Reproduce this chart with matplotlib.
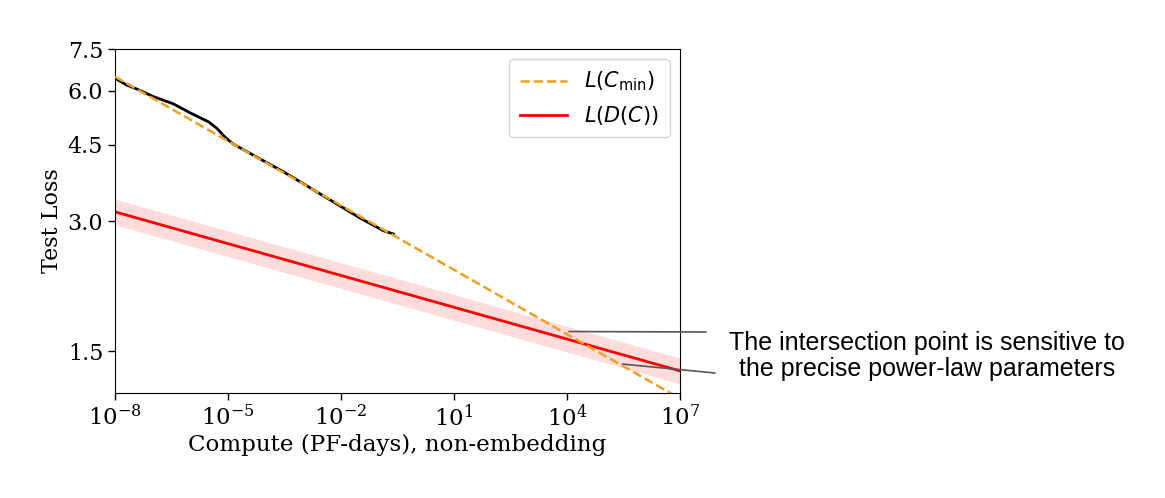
import matplotlib
matplotlib.use("Agg")
import matplotlib.pyplot as plt
import matplotlib.ticker as mticker
import numpy as np

# ---- data ----
# L(C_min) power-law fit: straight line in log-log, endpoints
cmin_x = [1e-8, 1e7]
cmin_y = [6.47, 1.165]

# L(D(C)) line and its uncertainty band (endpoints)
ldc_x = [1e-8, 1e7]
ldc_y = [3.15, 1.35]
ldc_lo = [2.94, 1.26]
ldc_hi = [3.37, 1.445]

# empirical learning curve (black)
emp_logc = [-8.0, -7.69, -7.42, -6.98, -6.45, -6.01, -5.52, -5.30, -5.08,
            -4.86, -4.33, -3.53, -2.91, -2.20, -1.50, -0.88, -0.61]
emp_loss = [6.42, 6.19, 6.06, 5.82, 5.60, 5.34, 5.09, 4.92, 4.69,
            4.52, 4.26, 3.90, 3.62, 3.32, 3.05, 2.85, 2.80]

yticks = [1.5, 3.0, 4.5, 6.0, 7.5]
ytick_labels = ["1.5", "3.0", "4.5", "6.0", "7.5"]
xticks = [1e-8, 1e-5, 1e-2, 1e1, 1e4, 1e7]

annotation = "The intersection point is sensitive to\nthe precise power-law parameters"
# annotation leader-line targets (data coords)
ann_targets = [(10 ** 4.05, 1.665), (10 ** 5.47, 1.40)]

# ---- figure ----
W, H = 1165, 498
fig = plt.figure(figsize=(W / 100, H / 100), dpi=100)
ax = fig.add_axes([115 / W, 1 - 393 / H, 565 / W, 344 / H])

ax.fill_between(ldc_x, ldc_lo, ldc_hi, color="#ffb3b3", alpha=0.45, lw=0)
ax.plot(np.power(10.0, emp_logc), emp_loss, color="black", lw=2.0, zorder=3)
ax.plot(cmin_x, cmin_y, ls="--", color="#f0a020", lw=1.8, label=r"$L(C_{\rm min})$", zorder=4)
ax.plot(ldc_x, ldc_y, color="red", lw=2.0, label=r"$L(D(C))$", zorder=2)

ax.set_xscale("log")
ax.set_yscale("log")
ax.set_xlim(1e-8, 1e7)
ax.set_ylim(1.2, 7.5)
ax.set_xticks(xticks)
ax.xaxis.set_minor_locator(mticker.NullLocator())
ax.xaxis.set_major_formatter(mticker.LogFormatterMathtext())
ax.set_yticks(yticks)
ax.set_yticklabels(ytick_labels)
ax.yaxis.set_minor_locator(mticker.NullLocator())
ax.tick_params(axis="both", length=5, width=1)

serif = "DejaVu Serif"
fig.canvas.draw()
for lab in ax.get_yticklabels():
    lab.set_family(serif)
    lab.set_fontsize(16)
for lab in ax.get_xticklabels():
    lab.set_family(serif)
    lab.set_fontsize(16.5)
    lab.set_math_fontfamily("dejavuserif")

ax.set_xlabel("Compute (PF-days), non-embedding", family=serif, fontsize=16.6, labelpad=2)
ax.set_ylabel("Test Loss", family=serif, fontsize=16, labelpad=3)

leg = ax.legend(loc="upper right", fontsize=15, frameon=True, handlelength=2.3,
                borderpad=0.5, labelspacing=0.5)
leg.get_frame().set_edgecolor("#cccccc")
for t in leg.get_texts():
    t.set_math_fontfamily("dejavusans")

# annotation text and leader lines
fig.text(927 / W, 1 - 356 / H, annotation, family="Liberation Sans", fontsize=18,
         ha="center", va="center", linespacing=1.15)
starts_px = [(706, 332), (715, 373)]
for (tx, ty), (sx, sy) in zip(ann_targets, starts_px):
    ax.annotate("", xy=(tx, ty), xycoords="data",
                xytext=(sx / W, 1 - sy / H), textcoords="figure fraction",
                arrowprops=dict(arrowstyle="-", color="#555555", lw=1.2,
                                shrinkA=0, shrinkB=0),
                annotation_clip=False)

fig.savefig("out.png", dpi=100)
